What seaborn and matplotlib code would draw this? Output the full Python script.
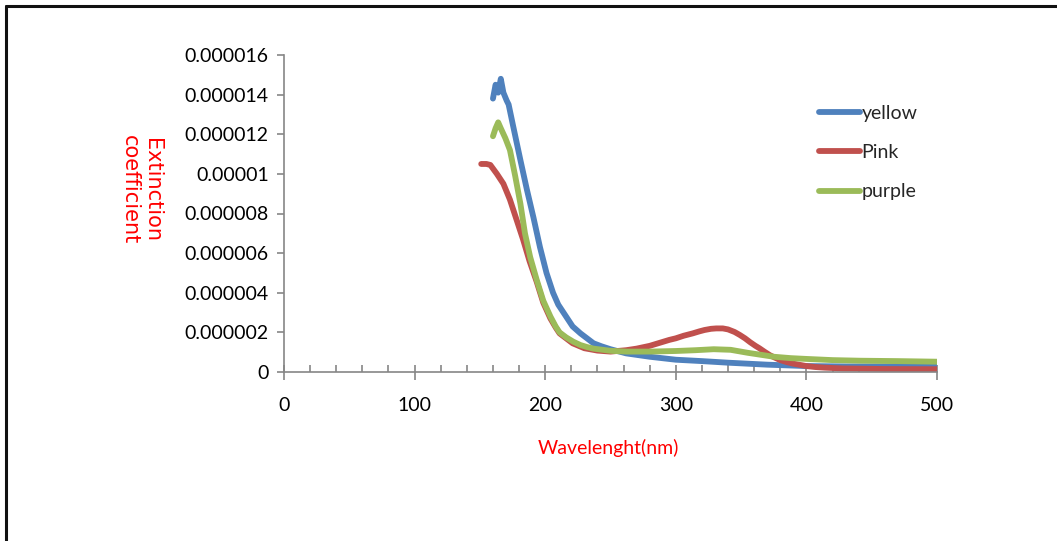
import numpy as np
import pandas as pd
import seaborn as sns
import matplotlib
matplotlib.use("Agg")
import matplotlib.pyplot as plt
from matplotlib.ticker import MultipleLocator
from matplotlib.lines import Line2D

# ---- data ----
series_names = ["yellow", "Pink", "purple"]
series_colors = ["#4F81BD", "#C0504D", "#9BBB59"]

yellow_x = [160, 162, 164, 166, 168, 170.5, 172, 175.5, 181, 186, 191, 196, 201, 206, 210, 214,
            218, 221, 227, 232, 237, 243, 250, 262, 280, 300, 320, 340, 370, 400, 430, 460, 500]
yellow_y = [13.8, 14.5, 14.1, 14.8, 14.1, 13.7, 13.5, 12.4, 10.7, 9.2, 7.8, 6.3, 5.0, 4.0, 3.4, 3.0,
            2.6, 2.3, 1.95, 1.7, 1.45, 1.3, 1.15, 0.94, 0.77, 0.62, 0.55, 0.47, 0.37, 0.30, 0.28,
            0.28, 0.30]

pink_x = [151, 155, 158, 163, 168, 173, 178, 183, 188, 193.5, 198.5, 204, 208, 211, 216, 221, 230,
          240, 250, 262, 270, 280, 288, 295, 300, 306, 313, 318, 322, 327, 331, 336, 340, 345, 349,
          353, 357, 361, 364, 368, 372, 376, 380, 385, 390, 395, 400, 407, 414, 428, 460, 500]
pink_y = [10.5, 10.5, 10.45, 10.0, 9.5, 8.7, 7.7, 6.7, 5.6, 4.55, 3.5, 2.7, 2.25, 1.95, 1.7, 1.45,
          1.2, 1.08, 1.03, 1.1, 1.18, 1.32, 1.48, 1.62, 1.7, 1.83, 1.95, 2.05, 2.12, 2.18, 2.2, 2.2,
          2.15, 2.02, 1.87, 1.7, 1.5, 1.32, 1.2, 1.02, 0.85, 0.72, 0.6, 0.5, 0.42, 0.36, 0.3, 0.25,
          0.22, 0.18, 0.15, 0.14]

purple_x = [160, 162, 164, 166, 169.5, 173, 177, 181, 184.5, 188.5, 193.5, 198.5, 204, 208, 211,
            216, 221.5, 227, 232, 237, 250, 262, 280, 300, 315, 329, 342, 355, 365, 375, 388, 400,
            420, 441, 470, 500]
purple_y = [11.9, 12.3, 12.6, 12.3, 11.8, 11.2, 9.9, 8.5, 7.0, 5.8, 4.65, 3.6, 2.8, 2.3, 2.0,
            1.75, 1.53, 1.36, 1.26, 1.18, 1.07, 1.03, 1.03, 1.06, 1.1, 1.15, 1.12, 0.97, 0.87, 0.77,
            0.7, 0.66, 0.6, 0.57, 0.55, 0.52]

y_scale = 1e-6
x_ticks = [0, 100, 200, 300, 400, 500]
x_tick_labels = ["0", "100", "200", "300", "400", "500"]
y_ticks = [0, 2e-6, 4e-6, 6e-6, 8e-6, 10e-6, 12e-6, 14e-6, 16e-6]
y_tick_labels = ["0", "0.000002", "0.000004", "0.000006", "0.000008", "0.00001",
                 "0.000012", "0.000014", "0.000016"]
x_label = "Wavelenght(nm)"
y_label = "Extinction\ncoefficient"

# ---- build long table ----
frames = []
for name, xs, ys in zip(series_names, [yellow_x, pink_x, purple_x], [yellow_y, pink_y, purple_y]):
    frames.append(pd.DataFrame({"x": xs, "y": np.array(ys) * y_scale, "series": name}))
df = pd.concat(frames, ignore_index=True)

sns.set_style("white")
plt.rcParams["font.family"] = ["Lato", "DejaVu Sans"]

fig = plt.figure(figsize=(10.57, 5.41), dpi=100)
ax = fig.add_axes([284 / 1057, 1 - 372 / 541, (937 - 284) / 1057, (372 - 55) / 541])

palette = dict(zip(series_names, series_colors))
sns.lineplot(data=df, x="x", y="y", hue="series", palette=palette, hue_order=series_names,
             sort=False, estimator=None, units="series", linewidth=4.2, ax=ax, legend=False)
for ln in ax.lines:
    ln.set_solid_capstyle("round")
    ln.set_solid_joinstyle("round")

ax.set_xlim(0, 500)
ax.set_ylim(0, 16e-6)
ax.set_xticks(x_ticks)
ax.set_xticklabels(x_tick_labels)
ax.set_yticks(y_ticks)
ax.set_yticklabels(y_tick_labels)
ax.xaxis.set_minor_locator(MultipleLocator(20))
ax.xaxis.remove_overlapping_locs = False

axis_gray = "#868686"
for s in ["top", "right"]:
    ax.spines[s].set_visible(False)
for s in ["left", "bottom"]:
    ax.spines[s].set_color(axis_gray)
    ax.spines[s].set_linewidth(1.2)

ax.tick_params(axis="x", which="major", direction="out", length=6, width=1.2, color=axis_gray,
               labelsize=14, pad=12, labelcolor="black", bottom=True)
ax.tick_params(axis="x", which="minor", direction="in", length=5, width=1.2, color=axis_gray,
               bottom=True)
ax.tick_params(axis="y", which="major", direction="out", length=5, width=1.2, color=axis_gray,
               labelsize=14, pad=6, labelcolor="black", left=True)

ax.set_xlabel("")
ax.set_ylabel("")
fig.text(608 / 1057, 1 - 448 / 541, x_label, color="#FF0000", fontsize=14,
         ha="center", va="center")
fig.text(141 / 1057, 1 - 190 / 541, y_label, color="#FF0000", fontsize=15,
         family=["DejaVu Sans"], ha="center", va="center", rotation=-90,
         multialignment="center", linespacing=1.15)

handles = [Line2D([0], [0], color=c, lw=4.2, solid_capstyle="round") for c in series_colors]
fig.legend(handles, series_names, loc="upper left", bbox_to_anchor=(809 / 1057, 1 - 95 / 541),
           frameon=False, fontsize=14, handlelength=2.1, handletextpad=0.1, labelspacing=1.15,
           borderpad=0)

# page border (top and left edges visible)
fig.add_artist(Line2D([6 / 1057, 1.0], [1 - 6 / 541, 1 - 6 / 541], color="#111111", lw=2.2,
                      transform=fig.transFigure))
fig.add_artist(Line2D([6 / 1057, 6 / 1057], [1 - 6 / 541, 0.0], color="#111111", lw=2.2,
                      transform=fig.transFigure))

fig.savefig("out.png", dpi=100)
